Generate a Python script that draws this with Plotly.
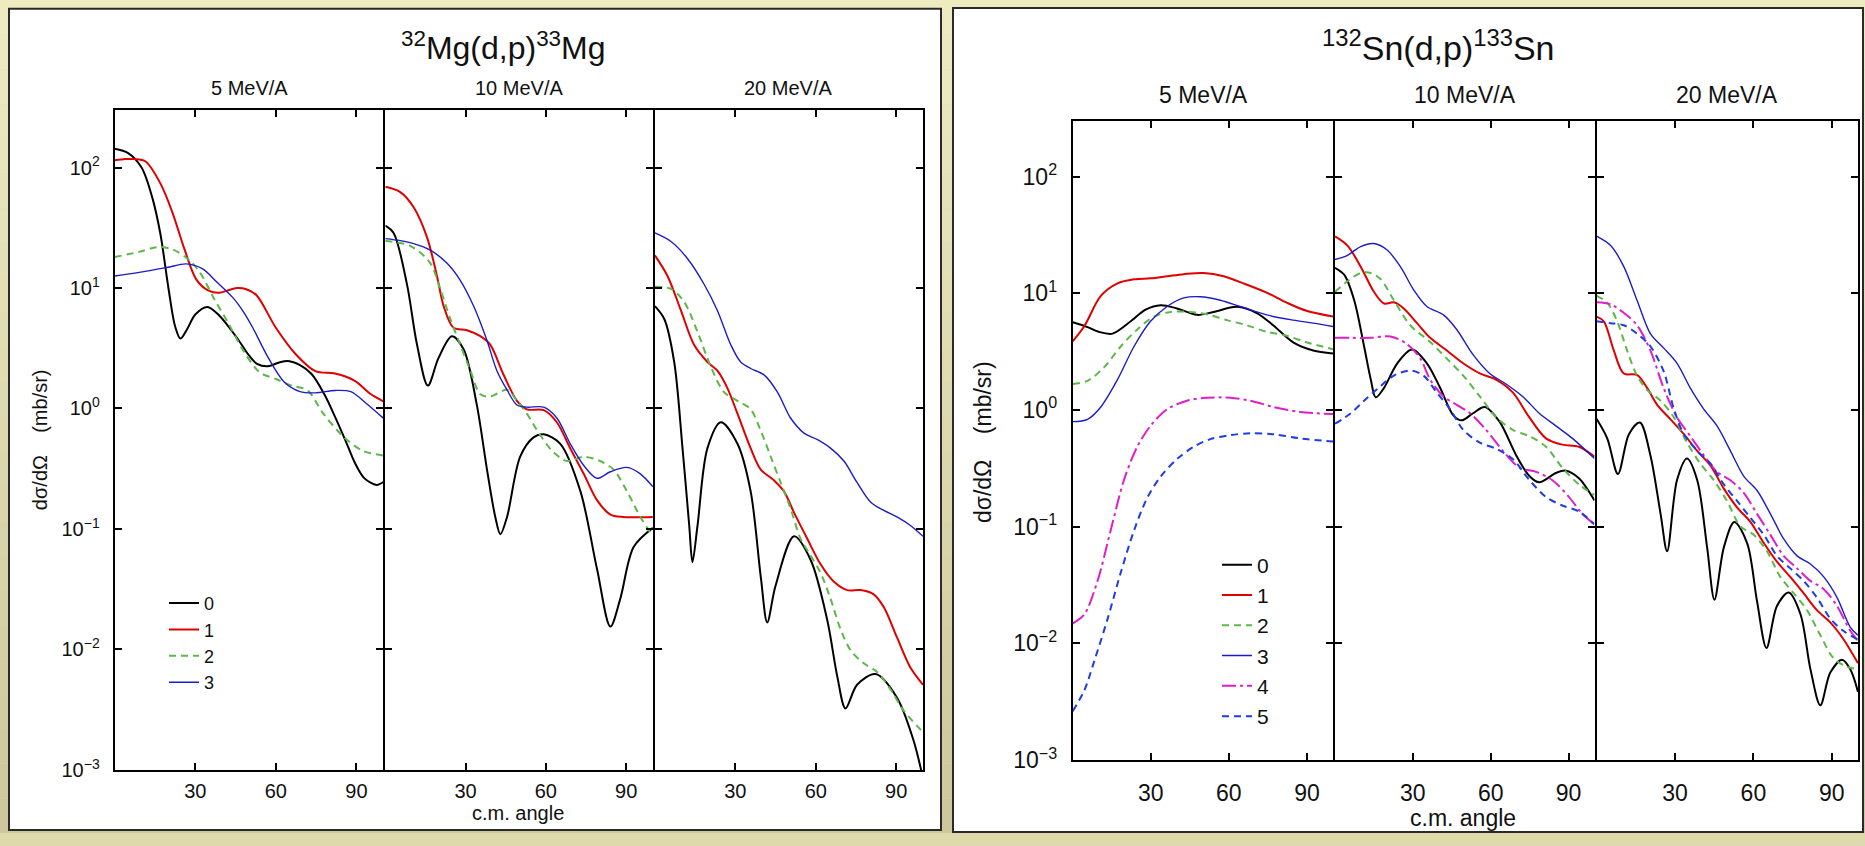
import plotly.graph_objects as go

W, H = 1865, 846


def fx(x):
    return x / W


def fy(y):
    return 1 - y / H


# ---------------------------------------------------------------------------
# 32Mg(d,p)33Mg  --  angle (deg, c.m.) and log10 of dsigma/dOmega (mb/sr)
# ---------------------------------------------------------------------------
# 5 MeV/A
mg05_a0 = [0, 5, 10, 14, 17, 20, 22.5, 24.5, 27, 30, 34.5, 39, 45.5, 50, 53, 57, 61, 64.5, 69, 73.3, 78, 82, 86, 89.4, 93, 97.5, 100]
mg05_s0 = [2.155, 2.12, 2.0, 1.75, 1.45, 1.0, 0.68, 0.58, 0.66, 0.78, 0.843, 0.77, 0.587, 0.44, 0.37, 0.35, 0.38, 0.394, 0.36, 0.286, 0.12, -0.067, -0.27, -0.45, -0.58, -0.634, -0.61]
mg05_a1 = [0, 4, 7.3, 11.5, 17.2, 21.6, 26, 30.4, 34.8, 39, 42, 45.5, 49, 52.8, 60, 67.4, 74.7, 82, 89.4, 95.3, 100]
mg05_s1 = [2.06, 2.07, 2.07, 2.05, 1.86, 1.62, 1.32, 1.07, 0.98, 0.96, 0.98, 1.0, 0.99, 0.94, 0.67, 0.45, 0.31, 0.29, 0.23, 0.12, 0.06]
mg05_a2 = [0, 9.1, 16.1, 21.6, 27.3, 31.7, 37, 42, 48, 54, 60, 65.9, 71.8, 77.6, 85, 92.3, 100]
mg05_s2 = [1.257, 1.30, 1.34, 1.32, 1.24, 1.13, 0.91, 0.72, 0.476, 0.30, 0.245, 0.19, 0.15, -0.04, -0.23, -0.35, -0.39]
mg05_a3 = [0, 9.1, 19.4, 26.7, 32.6, 38, 44, 48, 51.4, 57.2, 63.1, 69, 74.7, 82, 87.9, 93.8, 100]
mg05_s3 = [1.10, 1.13, 1.17, 1.20, 1.16, 1.05, 0.92, 0.80, 0.67, 0.42, 0.22, 0.14, 0.13, 0.15, 0.14, 0.04, -0.08]

# 10 MeV/A
mg10_a0 = [0, 3.1, 8.1, 11.8, 15.9, 19.9, 24.9, 29.3, 34.2, 38, 41.1, 43, 45.5, 50.4, 55.4, 59.2, 65.4, 72.9, 79.1, 84.1, 87.8, 92.8, 100]
mg10_s0 = [1.518, 1.457, 1.03, 0.536, 0.19, 0.42, 0.6, 0.49, 0.03, -0.507, -0.9, -1.043, -0.9, -0.4, -0.24, -0.214, -0.293, -0.686, -1.33, -1.81, -1.58, -1.15, -0.99]
mg10_a1 = [0, 5.6, 10.6, 15.6, 19.3, 21.8, 25.5, 30.5, 35.5, 39.2, 44.2, 49.2, 52.9, 59.2, 64.1, 69.1, 74.1, 79.1, 84.1, 89, 100]
mg10_s1 = [1.84, 1.796, 1.67, 1.42, 1.1, 0.85, 0.67, 0.65, 0.6, 0.53, 0.28, 0.064, -0.007, -0.014, -0.114, -0.33, -0.54, -0.76, -0.88, -0.9, -0.9]
mg10_a2 = [0, 9.3, 16.8, 20.5, 24.3, 28, 31.8, 35.5, 39.2, 45.5, 49.2, 52.9, 57.9, 62.9, 67.9, 74.1, 80.3, 85.3, 90.3, 95.3, 100]
mg10_s2 = [1.39, 1.35, 1.207, 0.993, 0.743, 0.529, 0.314, 0.118, 0.1, 0.154, 0.064, -0.043, -0.221, -0.364, -0.436, -0.4, -0.436, -0.507, -0.686, -0.9, -1.06]
mg10_a3 = [0, 5.6, 10.6, 16.8, 23, 28, 33, 38, 41.7, 45.5, 49.2, 52.9, 59.2, 64.1, 69.1, 74.1, 79.1, 84.1, 90.3, 95.3, 100]
mg10_s3 = [1.41, 1.393, 1.368, 1.314, 1.207, 1.064, 0.85, 0.564, 0.314, 0.154, 0.029, 0.011, 0.011, -0.079, -0.293, -0.471, -0.579, -0.525, -0.489, -0.543, -0.65]

# 20 MeV/A
mg20_a0 = [0, 3.5, 7.2, 10.3, 12.8, 14, 15.9, 19.6, 24.6, 30.8, 35.7, 39.5, 41.9, 45, 51.9, 58.1, 64.3, 68, 71.1, 75.4, 82.3, 90.3, 96.5, 100]
mg20_s0 = [0.85, 0.743, 0.386, -0.329, -0.971, -1.275, -0.971, -0.329, -0.114, -0.293, -0.686, -1.4, -1.775, -1.471, -1.061, -1.257, -1.757, -2.221, -2.489, -2.293, -2.204, -2.4, -2.757, -3.07]
mg20_a1 = [0, 4.7, 9.7, 14.6, 19.6, 23.3, 27, 30.8, 35.7, 39.5, 44.4, 48.1, 51.9, 56.8, 61.8, 66.7, 71.7, 76.7, 81.6, 85.4, 90.3, 95.3, 100]
mg20_s1 = [1.271, 1.1, 0.814, 0.529, 0.386, 0.314, 0.171, -0.043, -0.329, -0.507, -0.596, -0.686, -0.864, -1.079, -1.293, -1.436, -1.507, -1.507, -1.543, -1.65, -1.9, -2.15, -2.293]
mg20_a2 = [0, 6, 10.9, 15.9, 20.8, 25.8, 30.8, 35.7, 39.5, 43.2, 46.9, 50.6, 54.3, 58.1, 61.8, 65.5, 69.2, 73, 77.9, 82.9, 87.8, 92.8, 100]
mg20_s2 = [1.011, 0.993, 0.886, 0.636, 0.35, 0.136, 0.064, -0.007, -0.186, -0.4, -0.614, -0.829, -1.079, -1.221, -1.364, -1.579, -1.829, -2.007, -2.114, -2.186, -2.329, -2.507, -2.686]
mg20_a3 = [0, 6, 12.2, 18.4, 23.3, 28.3, 32, 35.7, 40.7, 45.7, 50.6, 55.6, 60.5, 65.5, 70.5, 75.4, 80.4, 85.4, 90.3, 95.3, 100]
mg20_s3 = [1.457, 1.386, 1.243, 1.029, 0.814, 0.529, 0.386, 0.332, 0.279, 0.136, -0.079, -0.204, -0.257, -0.329, -0.436, -0.614, -0.775, -0.846, -0.9, -0.971, -1.061]

# ---------------------------------------------------------------------------
# 132Sn(d,p)133Sn
# ---------------------------------------------------------------------------
# 5 MeV/A
sn05_a0 = [0, 5.7, 10, 15.3, 22.3, 28, 33.8, 40.1, 47.8, 54.1, 63.1, 70.7, 77, 84.7, 92.4, 100]
sn05_s0 = [0.751, 0.71, 0.67, 0.654, 0.76, 0.86, 0.898, 0.87, 0.815, 0.84, 0.884, 0.83, 0.726, 0.58, 0.51, 0.485]
sn05_a1 = [0, 4.5, 10.8, 17.2, 23.6, 29.9, 36.3, 42.7, 50.3, 58, 65.6, 74.5, 82.2, 89.8, 100]
sn05_s1 = [0.589, 0.72, 0.977, 1.085, 1.12, 1.128, 1.146, 1.164, 1.174, 1.146, 1.085, 1.006, 0.92, 0.85, 0.80]
sn05_a2 = [0, 5.7, 12.1, 18.5, 24.8, 31.2, 37.6, 45.2, 51.6, 59.2, 66.9, 74.5, 82.2, 89.8, 100]
sn05_s2 = [0.223, 0.25, 0.367, 0.546, 0.69, 0.80, 0.84, 0.84, 0.82, 0.77, 0.726, 0.67, 0.636, 0.58, 0.52]
sn05_a3 = [0, 5.7, 10.8, 17.2, 23.6, 29.9, 36.3, 42.7, 49, 56.7, 64.3, 74.5, 84.7, 92.4, 100]
sn05_s3 = [-0.10, -0.08, 0.026, 0.26, 0.546, 0.76, 0.887, 0.96, 0.97, 0.94, 0.887, 0.815, 0.77, 0.744, 0.715]
sn05_a4 = [0, 4.5, 9.6, 14.6, 19.7, 24.8, 29.9, 36.3, 43.9, 51.6, 60.5, 68.2, 77.1, 87.3, 100]
sn05_s4 = [-1.83, -1.75, -1.46, -1.03, -0.6, -0.315, -0.136, 0.007, 0.079, 0.105, 0.105, 0.08, 0.026, -0.017, -0.035]
sn05_a5 = [0, 4.5, 8.3, 13.4, 18.5, 23.6, 28.7, 33.8, 40.1, 46.5, 52.9, 60.5, 68.2, 77.1, 87.3, 100]
sn05_s5 = [-2.58, -2.4, -2.15, -1.79, -1.39, -1.03, -0.75, -0.57, -0.42, -0.315, -0.25, -0.215, -0.20, -0.208, -0.243, -0.27]

# 10 MeV/A
sn10_a0 = [0, 3.6, 7.4, 11.2, 13.8, 15.7, 18.9, 24, 29.7, 35.4, 40.5, 45.6, 48.8, 53.2, 57.7, 63.4, 69.8, 74.9, 78.7, 85.1, 88.9, 94, 100]
sn10_s0 = [1.218, 1.157, 0.94, 0.546, 0.26, 0.108, 0.19, 0.40, 0.518, 0.40, 0.19, -0.046, -0.089, -0.028, 0.026, -0.1, -0.387, -0.566, -0.62, -0.54, -0.52, -0.584, -0.775]
sn10_a1 = [0, 4.8, 9.9, 15, 18.9, 22.7, 26.5, 31.6, 36.7, 43.1, 49.4, 55.8, 62.2, 68.5, 74.9, 81.3, 87.6, 94, 100]
sn10_s1 = [1.487, 1.408, 1.228, 1.013, 0.912, 0.923, 0.87, 0.744, 0.618, 0.51, 0.40, 0.313, 0.259, 0.151, -0.064, -0.243, -0.297, -0.315, -0.40]
sn10_a2 = [0, 4.8, 9.9, 13.8, 17.6, 22.7, 29, 36.7, 43.1, 49.4, 55.8, 62.2, 68.5, 74.9, 81.3, 87.6, 94, 100]
sn10_s2 = [1.013, 1.103, 1.174, 1.174, 1.12, 0.94, 0.726, 0.582, 0.44, 0.295, 0.116, -0.064, -0.17, -0.225, -0.315, -0.495, -0.638, -0.728]
sn10_a3 = [0, 4.8, 9.9, 15, 20.1, 25.2, 30.3, 35.4, 41.8, 46.9, 53.2, 59.6, 65.9, 72.3, 78.7, 85.1, 91.5, 100]
sn10_s3 = [1.289, 1.325, 1.40, 1.426, 1.37, 1.228, 1.03, 0.887, 0.815, 0.69, 0.474, 0.313, 0.223, 0.116, -0.028, -0.136, -0.243, -0.416]
sn10_a4 = [0, 6.1, 13.8, 21.4, 27.8, 32.9, 36.7, 41.8, 46.9, 52, 58.3, 64.7, 71.1, 77.5, 83.8, 90.2, 95.3, 100]
sn10_s4 = [0.618, 0.618, 0.618, 0.63, 0.564, 0.44, 0.26, 0.116, 0.044, -0.028, -0.172, -0.35, -0.495, -0.53, -0.602, -0.746, -0.89, -0.98]
sn10_a5 = [0, 6.1, 11.2, 16.3, 22.7, 29, 34.1, 39.2, 44.3, 49.4, 55.8, 62.2, 68.5, 74.9, 81.3, 87.6, 94, 100]
sn10_s5 = [-0.118, -0.028, 0.08, 0.18, 0.295, 0.338, 0.295, 0.15, 0.008, -0.17, -0.28, -0.333, -0.42, -0.6, -0.746, -0.818, -0.87, -0.98]

# 20 MeV/A
sn20_a0 = [0, 4.1, 8.2, 12.4, 16.6, 20.6, 24.5, 27, 30.8, 34.6, 38.5, 42.3, 45.1, 48.7, 52.7, 57.6, 61.4, 65, 69, 73.5, 78, 81.8, 85.6, 89.4, 93.9, 97, 100]
sn20_s0 = [-0.075, -0.243, -0.548, -0.207, -0.107, -0.387, -0.89, -1.21, -0.60, -0.416, -0.60, -1.177, -1.625, -1.177, -0.96, -1.14, -1.64, -2.04, -1.68, -1.564, -1.75, -2.22, -2.53, -2.25, -2.14, -2.22, -2.415]
sn20_a1 = [0, 2.8, 6.6, 10.4, 15.5, 19.4, 23.2, 28.3, 33.4, 38.5, 43.6, 48.7, 53.8, 58.9, 64, 69, 74.1, 79.2, 84.3, 89.4, 94.5, 100]
sn20_s1 = [0.80, 0.76, 0.51, 0.313, 0.30, 0.187, 0.044, -0.08, -0.207, -0.35, -0.477, -0.674, -0.836, -0.96, -1.14, -1.30, -1.43, -1.57, -1.715, -1.82, -1.966, -2.17]
sn20_a2 = [0, 4.1, 7.9, 11.7, 15.5, 19.4, 24.5, 29.6, 34.6, 39.7, 44.8, 49.9, 55, 60.1, 65.2, 70.3, 75.4, 80.5, 85.6, 90.7, 95.8, 100]
sn20_s2 = [0.977, 0.92, 0.76, 0.51, 0.295, 0.17, 0.08, -0.064, -0.28, -0.46, -0.60, -0.78, -0.997, -1.07, -1.21, -1.43, -1.57, -1.715, -1.93, -2.128, -2.2, -2.22]
sn20_a3 = [0, 5.4, 10.4, 15.5, 20.6, 25.7, 30.8, 35.9, 41, 46.1, 51.2, 56.3, 61.4, 66.5, 71.6, 76.7, 81.8, 86.9, 92, 97, 100]
sn20_s3 = [1.49, 1.41, 1.23, 0.94, 0.654, 0.53, 0.40, 0.187, 0.008, -0.136, -0.35, -0.566, -0.69, -0.89, -1.105, -1.25, -1.32, -1.43, -1.607, -1.86, -1.93]
sn20_a4 = [0, 5.4, 10.4, 15.5, 20.6, 25.7, 30.8, 35.9, 41, 46.1, 51.2, 56.3, 61.4, 66.5, 71.6, 76.7, 81.8, 86.9, 92, 97, 100]
sn20_s4 = [0.923, 0.905, 0.833, 0.726, 0.51, 0.187, -0.064, -0.225, -0.387, -0.53, -0.602, -0.71, -0.89, -1.07, -1.25, -1.357, -1.464, -1.535, -1.68, -1.89, -1.98]
sn20_a5 = [0, 5.4, 10.4, 15.5, 20.6, 25.7, 29.6, 33.4, 38.5, 43.6, 48.7, 53.8, 58.9, 64, 69, 74.1, 79.2, 84.3, 89.4, 94.5, 100]
sn20_s5 = [0.76, 0.744, 0.726, 0.654, 0.546, 0.33, 0.008, -0.207, -0.35, -0.46, -0.638, -0.78, -0.925, -1.07, -1.25, -1.357, -1.464, -1.607, -1.787, -1.894, -1.966]

# labels
ENERGIES = ["5 MeV/A", "10 MeV/A", "20 MeV/A"]
STATE_NAMES = ["0", "1", "2", "3", "4", "5"]
X_TICKS = [30, 60, 90]
Y_TICKS = [1e-3, 1e-2, 1e-1, 1e0, 1e1, 1e2]
Y_TICKTEXT = ["10<sup>\u22123</sup>", "10<sup>\u22122</sup>", "10<sup>\u22121</sup>",
              "10<sup>0</sup>", "10<sup>1</sup>", "10<sup>2</sup>"]

mg_sets = [
    [(mg05_a0, mg05_s0), (mg05_a1, mg05_s1), (mg05_a2, mg05_s2), (mg05_a3, mg05_s3)],
    [(mg10_a0, mg10_s0), (mg10_a1, mg10_s1), (mg10_a2, mg10_s2), (mg10_a3, mg10_s3)],
    [(mg20_a0, mg20_s0), (mg20_a1, mg20_s1), (mg20_a2, mg20_s2), (mg20_a3, mg20_s3)],
]
sn_sets = [
    [(sn05_a0, sn05_s0), (sn05_a1, sn05_s1), (sn05_a2, sn05_s2), (sn05_a3, sn05_s3), (sn05_a4, sn05_s4), (sn05_a5, sn05_s5)],
    [(sn10_a0, sn10_s0), (sn10_a1, sn10_s1), (sn10_a2, sn10_s2), (sn10_a3, sn10_s3), (sn10_a4, sn10_s4), (sn10_a5, sn10_s5)],
    [(sn20_a0, sn20_s0), (sn20_a1, sn20_s1), (sn20_a2, sn20_s2), (sn20_a3, sn20_s3), (sn20_a4, sn20_s4), (sn20_a5, sn20_s5)],
]

LINE_STYLES = [
    dict(color="#000000", width=2.0, dash="solid"),
    dict(color="#e00000", width=2.0, dash="solid"),
    dict(color="#5cb848", width=2.0, dash="7px,5px"),
    dict(color="#1c1cc8", width=1.4, dash="solid"),
    dict(color="#e01ec8", width=2.0, dash="14px,4px,3px,4px"),
    dict(color="#1f3ce6", width=2.0, dash="7px,5px"),
]

FONT = "Liberation Sans, Arial, Helvetica, sans-serif"
AXIS_LW = 2

# panel geometry (pixels)
panels = [
    dict(sets=mg_sets, legend="legend",
         xs=[114.7, 384.3, 653.9, 923.0], top=112, bottom=782,
         tick_size=20, sub_size=20, sub_y=89, standoff_x=2, standoff_y=9),
    dict(sets=sn_sets, legend="legend2",
         xs=[1072.7, 1334.0, 1595.5, 1858.0], top=123, bottom=772,
         tick_size=23, sub_size=23, sub_y=96, standoff_x=11, standoff_y=9),
]

fig = go.Figure()
layout_axes = {}
annotations = []

n = 0
for p in panels:
    for k in range(3):
        n += 1
        xa = "x" if n == 1 else f"x{n}"
        ya = "y" if n == 1 else f"y{n}"
        for s, (ang, lg) in enumerate(p["sets"][k]):
            fig.add_trace(go.Scatter(
                x=ang, y=[10 ** v for v in lg],
                mode="lines", line=dict(shape="spline", smoothing=0.9, **LINE_STYLES[s]),
                name=STATE_NAMES[s], legend=p["legend"],
                showlegend=(k == 0), xaxis=xa, yaxis=ya, hoverinfo="skip",
            ))
        # inner panel edges are pulled in by half a line width so that the
        # neighbouring frame lines land on the same pixel column
        left = p["xs"][k] + (AXIS_LW / 2 if k > 0 else 0)
        right = p["xs"][k + 1] - (AXIS_LW / 2 if k < 2 else 0)
        common = dict(showline=True, linecolor="black", linewidth=AXIS_LW, mirror="ticks",
                      ticks="inside", ticklen=7, tickwidth=1.5, tickcolor="black",
                      showgrid=False, zeroline=False,
                      tickfont=dict(family=FONT, size=p["tick_size"], color="#111"))
        layout_axes["xaxis" if n == 1 else f"xaxis{n}"] = dict(
            common, range=[0, 100], tickvals=X_TICKS, ticktext=[str(t) for t in X_TICKS],
            domain=[fx(left), fx(right)], anchor=ya,
            ticklabelstandoff=p["standoff_x"])
        layout_axes["yaxis" if n == 1 else f"yaxis{n}"] = dict(
            common, type="log", range=[-3, 2.475], tickvals=Y_TICKS, ticktext=Y_TICKTEXT,
            domain=[fy(p["bottom"]), fy(p["top"])], anchor=xa,
            showticklabels=(k == 0), ticklabelstandoff=p["standoff_y"])
        annotations.append(dict(
            text=ENERGIES[k], x=fx((p["xs"][k] + p["xs"][k + 1]) / 2), y=fy(p["sub_y"]),
            xref="paper", yref="paper", showarrow=False, xanchor="center", yanchor="middle",
            font=dict(family=FONT, size=p["sub_size"], color="#111")))

# panel titles and axis titles
YTITLE = "d\u03c3/d\u03a9\u00a0\u00a0\u00a0\u00a0(mb/sr)"
extra = [
    dict(text="<sup>32</sup>Mg(d,p)<sup>33</sup>Mg", x=fx(503), y=fy(47), font=dict(family=FONT, size=32, color="#111")),
    dict(text="<sup>132</sup>Sn(d,p)<sup>133</sup>Sn", x=fx(1438), y=fy(46), font=dict(family=FONT, size=34, color="#111")),
    dict(text="c.m. angle", x=fx(518), y=fy(826), font=dict(family=FONT, size=20, color="#111")),
    dict(text="c.m. angle", x=fx(1463), y=fy(831), font=dict(family=FONT, size=23, color="#111")),
    dict(text=YTITLE, x=fx(40), y=fy(447), textangle=-90, font=dict(family=FONT, size=20, color="#111")),
    dict(text=YTITLE, x=fx(983), y=fy(449), textangle=-90, font=dict(family=FONT, size=23, color="#111")),
]
for a in extra:
    a.update(xref="paper", yref="paper", showarrow=False, xanchor="center", yanchor="middle",
             borderpad=0)
annotations += extra

# background bands and the two white framed boxes
shapes = []
top_c = (0xef, 0xeb, 0xc0)
bot_c = (0xcc, 0xc8, 0x9c)
NB = 24
for i in range(NB):
    t = i / (NB - 1)
    c = tuple(round(top_c[j] + (bot_c[j] - top_c[j]) * t) for j in range(3))
    shapes.append(dict(type="rect", xref="paper", yref="paper", layer="below",
                       x0=0, x1=1, y0=1 - (i + 1) / NB, y1=1 - i / NB,
                       fillcolor="rgb(%d,%d,%d)" % c, line=dict(width=0)))
for (x0, x1, y0, y1) in [(9, 941, 9, 843), (953, 1863, 8, 845)]:
    shapes.append(dict(type="rect", xref="paper", yref="paper", layer="below",
                       x0=fx(x0), x1=fx(x1), y0=fy(y1), y1=fy(y0),
                       fillcolor="white", line=dict(color="#2a2a2a", width=2)))

legend_common = dict(bgcolor="rgba(0,0,0,0)", borderwidth=0, xanchor="left", yanchor="top",
                     traceorder="normal", tracegroupgap=0)

fig.update_layout(
    width=W, height=H, margin=dict(l=0, r=0, t=0, b=0),
    paper_bgcolor="#dedaac", plot_bgcolor="rgba(0,0,0,0)",
    font=dict(family=FONT, color="#111"),
    shapes=shapes, annotations=annotations,
    legend=dict(legend_common, x=fx(164), y=fy(594), font=dict(family=FONT, size=18, color="#111")),
    legend2=dict(legend_common, x=fx(1217), y=fy(553), font=dict(family=FONT, size=21, color="#111")),
    **layout_axes,
)

fig.write_html("out.html")
